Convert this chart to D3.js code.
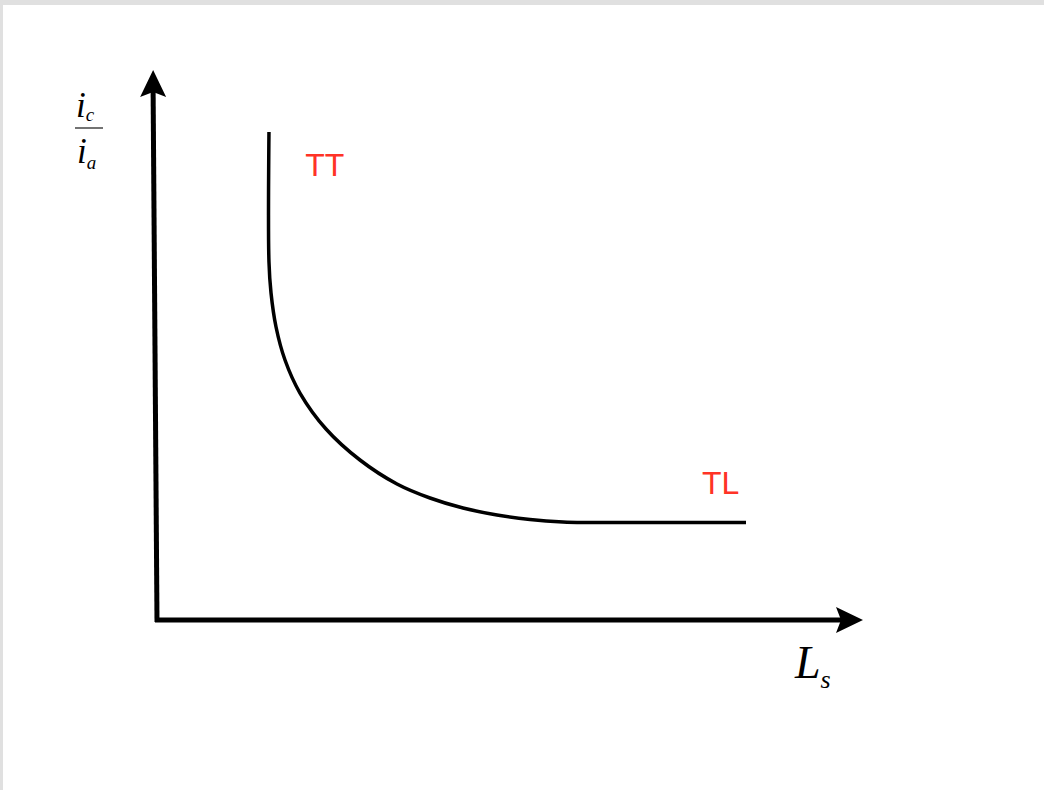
<!DOCTYPE html>
<html>
<head>
<meta charset="utf-8">
<script src="https://cdn.jsdelivr.net/npm/d3@7"></script>
<style>
  html, body { margin: 0; padding: 0; background: #fff; }
  #frame {
    width: 1044px; height: 790px; box-sizing: border-box;
    border-top: 5px solid #e0e0e0; border-left: 3px solid #e0e0e0;
    background: #fff; overflow: hidden;
  }
</style>
</head>
<body>
<div id="frame"></div>
<script>
// Curve (abstract units 0-100 on both axes)
var lsValues    = [15.86, 15.86, 16.15, 16.86, 18.13, 20.25, 23.94, 28.75, 33.99, 38.67, 43.34, 48.16, 52.83, 57.51, 61.33, 83.43];
var ratioValues = [88.73, 65.09, 59.45, 53.27, 47.27, 41.27, 34.73, 29.09, 24.73, 22.18, 20.36, 19.09, 18.27, 17.82, 17.73, 17.73];

var regionLabels = ["TT", "TL"];
var regionLs     = [21.0, 77.2];
var regionRatio  = [80.7, 22.9];

var width = 1041, height = 785;

var svg = d3.select("#frame").append("svg")
    .attr("width", width)
    .attr("height", height)
    .style("position", "relative")
    .style("left", "-3px")
    .style("top", "-5px")
    .style("overflow", "visible");

// Scales (page coordinates)
var x = d3.scaleLinear().domain([0, 100]).range([157, 863]);
var y = d3.scaleLinear().domain([0, 100]).range([620, 70]);

var g = svg.append("g");

// Axes: thick lines with arrowheads
var head = 27, half = 13, notch = 5;

// y axis (leans a touch to the left, as in the picture)
var yx0 = x(0), yx1 = x(-0.55);
g.append("line")
    .attr("x1", yx0).attr("y1", y(0) + 2)
    .attr("x2", yx1).attr("y2", y(100) + head - notch)
    .attr("stroke", "#000").attr("stroke-width", 5);
g.append("path")
    .attr("d", "M0,0 L" + (-half) + "," + head + " L0," + (head - notch) + " L" + half + "," + head + " Z")
    .attr("transform", "translate(" + yx1 + "," + y(100) + ")")
    .attr("fill", "#000");

// x axis
g.append("line")
    .attr("x1", x(0) - 2).attr("y1", y(0))
    .attr("x2", x(100) - head + notch).attr("y2", y(0))
    .attr("stroke", "#000").attr("stroke-width", 5);
g.append("path")
    .attr("d", "M0,0 L" + (-head) + "," + (-half) + " L" + (-(head - notch)) + ",0 L" + (-head) + "," + half + " Z")
    .attr("transform", "translate(" + x(100) + "," + y(0) + ")")
    .attr("fill", "#000");

// the curve
var pts = lsValues.map(function(d, i) { return [d, ratioValues[i]]; });
var line = d3.line()
    .x(function(d) { return x(d[0]); })
    .y(function(d) { return y(d[1]); })
    .curve(d3.curveCatmullRom.alpha(0.5));

g.append("path")
    .datum(pts)
    .attr("d", line)
    .attr("fill", "none")
    .attr("stroke", "#000")
    .attr("stroke-width", 3.5);

// region labels
g.selectAll("text.region")
    .data(regionLabels)
    .enter().append("text")
    .attr("class", "region")
    .attr("x", function(d, i) { return x(regionLs[i]); })
    .attr("y", function(d, i) { return y(regionRatio[i]); })
    .attr("fill", "#ff3326")
    .style("font-family", "'Liberation Sans', Arial, sans-serif")
    .style("font-size", "32px")
    .text(function(d) { return d; });

// y label: i_c / i_a
var serif = "'Liberation Serif', 'Times New Roman', serif";
var num = g.append("text")
    .attr("x", 76).attr("y", 117)
    .style("font-family", serif).style("font-style", "italic").style("font-size", "35px");
num.append("tspan").text("i");
num.append("tspan").attr("dy", 4).style("font-size", "19px").text("c");

g.append("line")
    .attr("x1", 75).attr("x2", 103).attr("y1", 128).attr("y2", 128)
    .attr("stroke", "#444").attr("stroke-width", 1.5);

var den = g.append("text")
    .attr("x", 77).attr("y", 163)
    .style("font-family", serif).style("font-style", "italic").style("font-size", "35px");
den.append("tspan").text("i");
den.append("tspan").attr("dy", 6).style("font-size", "19px").text("a");

// x label: L_s
var xl = g.append("text")
    .attr("x", 795).attr("y", 678)
    .style("font-family", serif).style("font-style", "italic").style("font-size", "46px");
xl.append("tspan").text("L");
xl.append("tspan").attr("dy", 10).style("font-size", "26px").text("s");
</script>
</body>
</html>
